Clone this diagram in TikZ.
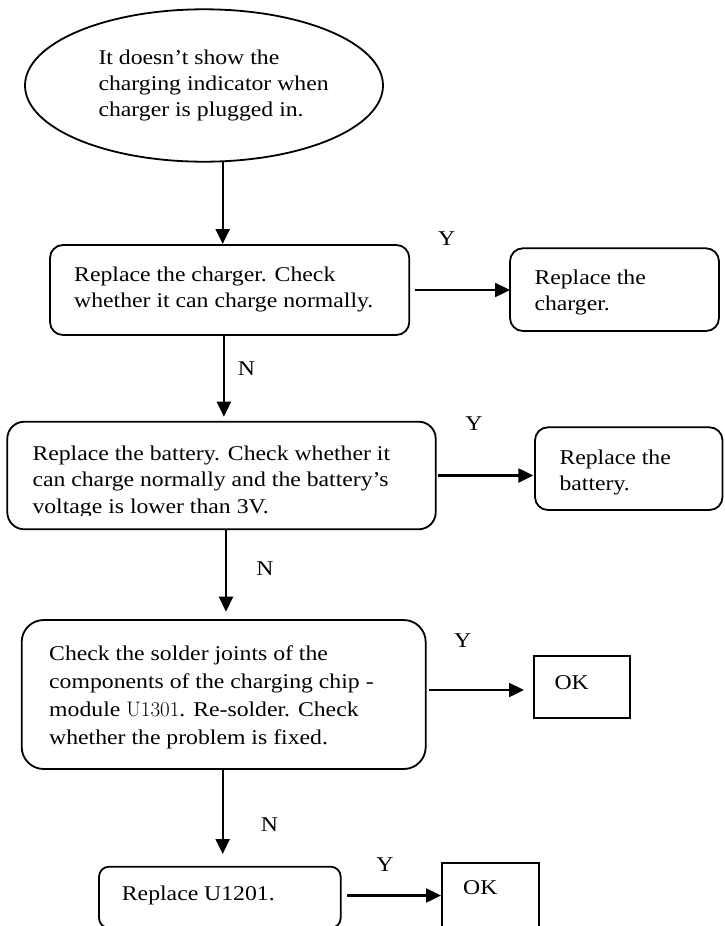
\documentclass[tikz,border=0pt]{standalone}
\usepackage{fontspec}
\newfontfamily\tnr[FakeStretch=1.13]{Liberation Serif}
\usetikzlibrary{arrows.meta,shapes.geometric}
\begin{document}
\begin{tikzpicture}[x=1pt,y=-1pt,
  rbox/.style={draw, line width=1.8pt, rectangle, rounded corners=#1, inner sep=0pt, outer sep=0pt},
  rbox/.default=13pt,
  sbox/.style={draw, line width=1.8pt, rectangle, inner sep=0pt, outer sep=0pt},
  txt/.style={anchor=base west, inner sep=0pt, align=left,
    font=\tnr\fontsize{21pt}{#1}\selectfont},
  txt/.default=26.5pt,
  lbl/.style={inner sep=0pt, font=\tnr\fontsize{21pt}{26pt}\selectfont},
  arr/.style={line width=2.4pt, -{Triangle[length=15pt,width=14pt]}}]

\useasboundingbox (0,0) rectangle (724,926);
\fill[white] (0,0) rectangle (724,926);
\clip (0,0) rectangle (724,926);

% shapes
\node[ellipse, draw, line width=1.8pt, minimum width=358pt, minimum height=152.4pt,
      inner sep=0pt, outer sep=0pt] (start) at (204,85.5) {};
\node[rbox=13pt, minimum width=359.3pt, minimum height=90pt]   (chk1) at (229.65,290) {};
\node[rbox=13pt, minimum width=209pt,   minimum height=82.7pt] (rep1) at (614.5,289.65) {};
\node[rbox=17pt, minimum width=428.4pt, minimum height=107.6pt](chk2) at (221.5,475.5) {};
\node[rbox=13pt, minimum width=187.5pt, minimum height=82.7pt] (rep2) at (628.75,468.65) {};
\node[rbox=22pt, minimum width=404pt,   minimum height=149pt]  (chk3) at (223.7,694.5) {};
\node[sbox, minimum width=96pt, minimum height=62.3pt]         (ok1)  at (582,687.15) {};
\node[rbox=10pt, minimum width=241.7pt, minimum height=61.3pt] (rep3) at (219.85,897.35) {};
\node[sbox, minimum width=97pt, minimum height=65pt]           (ok2)  at (490.5,895.5) {};

% texts (each anchored on the baseline of its last line)
\node[txt=26.3pt] (tstart) at (98.3,116.6) {It doesn’t show the\\charging indicator when\\charger is plugged in.};
\node[txt=26pt] (tchk1) at (74,307.7) {Replace the charger. Check\\whether it can charge normally.};
\node[txt=26.7pt] (trep1) at (534.3,310.7) {Replace the\\charger.};
\begin{scope}
  \clip (0,400) rectangle (440,515.5);
  \node[txt=26.7pt] (tchk2) at (32.3,513.4) {Replace the battery. Check whether it\\can charge normally and the battery’s\\voltage is lower than 3V.};
\end{scope}
\node[txt=26.7pt] (trep2) at (559.3,490.7) {Replace the\\battery.};
\node[txt=27.8pt] (tchk3) at (49,744.1) {Check the solder joints of the\\components of the charging chip -\\module {\rmfamily U1301}. Re-solder. Check\\whether the problem is fixed.};
\node[txt] (tok1) at (554.3,689) {OK};
\node[txt] (trep3) at (121.7,900) {Replace U1201.};
\node[txt] (tok2) at (463,894.7) {OK};

% branch labels
\node[lbl] (y1) at (446.7,238.3) {Y};
\node[lbl] (n1) at (246.5,369) {N};
\node[lbl] (y2) at (474,424) {Y};
\node[lbl] (n2) at (265,569) {N};
\node[lbl] (y3) at (462.7,640.7) {Y};
\node[lbl] (n3) at (269.5,825) {N};
\node[lbl] (y4) at (385,865) {Y};

% connectors
\draw[arr, shorten >=1pt] ([xshift=18.7pt]start.south) -- ([xshift=18.7pt]start.south |- chk1.north);
\draw[arr, shorten <=6pt] (chk1.east) -- (chk1.east -| rep1.west);
\draw[arr, shorten >=5pt] ([xshift=-5.75pt]chk1.south) -- ([xshift=-5.75pt]chk1.south |- chk2.north);
\draw[arr, shorten <=2.6pt, shorten >=1.7pt] (chk2.east) -- (chk2.east -| rep2.west);
\draw[arr, shorten >=8.3pt] ([xshift=4.5pt]chk2.south) -- ([xshift=4.5pt]chk2.south |- chk3.north);
\draw[arr, shorten <=3.6pt, shorten >=10pt] ([yshift=4.5pt]chk3.east) -- ([yshift=4.5pt]chk3.east -| ok1.west);
\draw[arr, shorten >=12.7pt] ([xshift=-1pt]chk3.south) -- ([xshift=-1pt]chk3.south |- rep3.north);
\draw[arr, shorten <=6.6pt, shorten >=1pt] ([yshift=1.85pt]rep3.east) -- ([yshift=1.85pt]rep3.east -| ok2.west);

\end{tikzpicture}
\end{document}
